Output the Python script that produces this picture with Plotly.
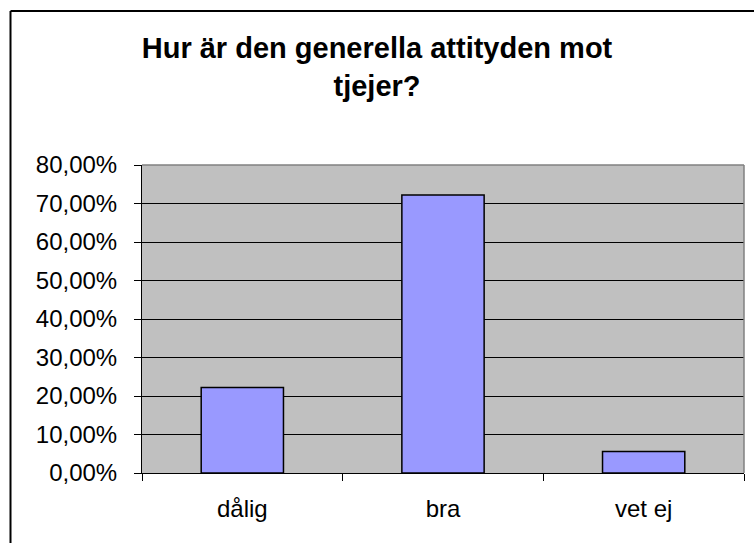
import plotly.graph_objects as go

categories = ["dålig", "bra", "vet ej"]
values = [4/18, 13/18, 1/18]
y_ticks = [0, 0.1, 0.2, 0.3, 0.4, 0.5, 0.6, 0.7, 0.8]
title_text = "Hur är den generella attityden mot<br>tjejer?"

FONT = "Arial, Liberation Sans, sans-serif"

fig = go.Figure(go.Bar(
    x=categories, y=values,
    marker=dict(color="#9999FF", line=dict(color="black", width=1.5)),
    width=0.41,
))

fig.update_layout(
    width=754, height=543,
    margin=dict(l=142, r=10, t=165, b=70),
    paper_bgcolor="white", plot_bgcolor="#C0C0C0",
    separators=", ",
    showlegend=False,
    title=dict(text=title_text, x=0.5, xref="container", xanchor="center",
               y=1 - 58/543, yref="container", yanchor="top",
               font=dict(family=FONT, size=29, color="black", weight="bold")),
    font=dict(family=FONT, color="black"),
)

fig.update_xaxes(
    showline=True, linecolor="black", linewidth=1,
    ticks="outside", ticklen=7, tickcolor="black", tickson="boundaries",
    tickfont=dict(size=24, family=FONT, color="black"),
    ticklabelstandoff=14,
    showgrid=False, range=[-0.5, 2.5],
)
fig.update_yaxes(
    range=[0, 0.8], tickvals=y_ticks, tickformat=".2%",
    showline=True, linecolor="black", linewidth=1,
    ticks="outside", ticklen=7, tickcolor="black",
    tickfont=dict(size=24, family=FONT, color="black"),
    ticklabelstandoff=12,
    showgrid=True, gridcolor="black", gridwidth=1, zeroline=False,
)

# plot area border (top/right, gray)
fig.add_shape(type="line", xref="paper", yref="paper", x0=0, x1=1, y0=1, y1=1,
              line=dict(color="#808080", width=1.5), layer="above")
fig.add_shape(type="line", xref="paper", yref="paper", x0=1, x1=1, y0=0, y1=1,
              line=dict(color="#808080", width=1.5), layer="above")
# chart area border (cropped on right/bottom)
bx = (10.5 - 142) / 602
by = (473 - 11) / 308
fig.add_shape(type="line", xref="paper", yref="paper",
              x0=bx, x1=1.2, y0=by, y1=by,
              line=dict(color="black", width=2), layer="above")
fig.add_shape(type="line", xref="paper", yref="paper",
              x0=bx, x1=bx, y0=by, y1=-0.4,
              line=dict(color="black", width=2), layer="above")

fig.write_html("out.html", config={"displayModeBar": False},
               post_script="document.body.style.margin='0';")
